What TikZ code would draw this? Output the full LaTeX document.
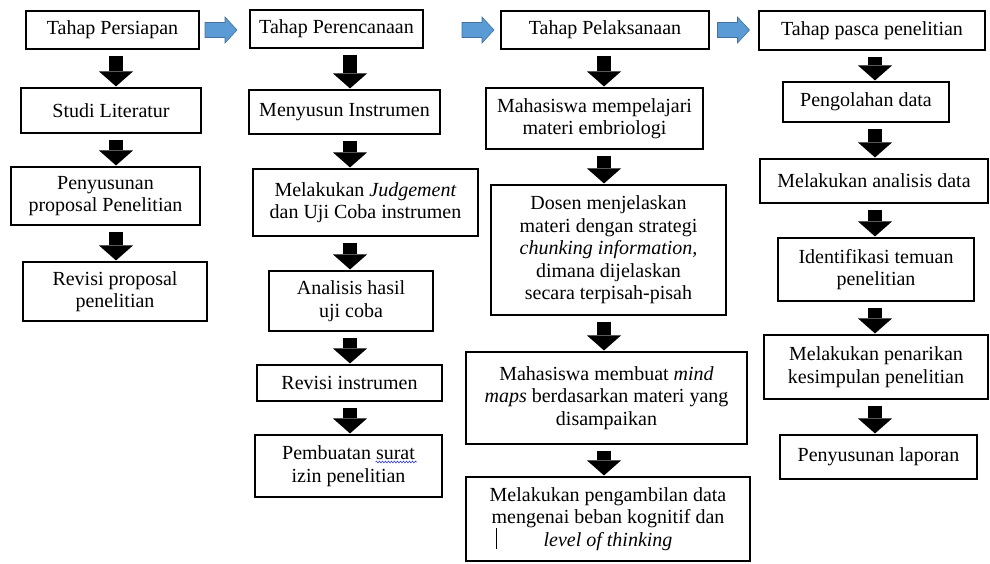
\documentclass[tikz,border=0pt]{standalone}
\usepackage{fontspec}
\setmainfont{Liberation Serif}
\usetikzlibrary{arrows.meta,calc,decorations.pathmorphing}
\definecolor{arrblue}{RGB}{91,155,213}
\definecolor{arredge}{RGB}{65,113,156}
\definecolor{spellwave}{RGB}{50,60,220}
\begin{document}
\begin{tikzpicture}[x=1pt,y=-1pt,
  box/.style={draw, line width=1.1pt, inner sep=0pt, align=center,
    font=\fontsize{20}{22.5}\selectfont},
  dnarrow/.style={line width=14pt,
    -{Triangle[width=34pt,length=15pt,line width=0pt]},
    shorten <=6pt, shorten >=1pt},
  bluearrow/.pic={\draw[fill=arrblue, draw=arredge, line width=0.6pt]
    (-16,-7.5) -- (4,-7.5) -- (4,-13) -- (16,0) -- (4,13) -- (4,7.5) -- (-16,7.5) -- cycle;}
]
\fill[white] (0,0) rectangle (990,563);
\useasboundingbox (0,0) rectangle (990,563);

% column 1
\node[box, minimum width=173pt, minimum height=38pt] (p0) at (112.5,30) {Tahap Persiapan};
\node[box, minimum width=180pt, minimum height=45pt] (p1) at (111,110.5) {Studi Literatur};
\node[box, minimum width=189pt, minimum height=58pt] (p2) at (105.5,196) {Penyusunan\\proposal Penelitian};
\node[box, minimum width=184pt, minimum height=59pt] (p3) at (115,291.5) {Revisi proposal\\penelitian};

% column 2
\node[box, minimum width=173pt, minimum height=38pt] (q0) at (336.5,29) {Tahap Perencanaan};
\node[box, minimum width=191pt, minimum height=44pt] (q1) at (344.5,112) {Menyusun Instrumen};
\node[box, minimum width=225pt, minimum height=67pt] (q2) at (365.5,202.5) {Melakukan \textit{Judgement}\\dan Uji Coba instrumen};
\node[box, minimum width=164pt, minimum height=60pt] (q3) at (351,301) {Analisis hasil\\uji coba};
\node[box, minimum width=185pt, minimum height=36pt] (q4) at (349.5,383) {Revisi instrumen};
\node[box, minimum width=187pt, minimum height=62pt] (q5) at (348.5,466) {Pembuatan surat\\izin penelitian};

% column 3
\node[box, minimum width=208pt, minimum height=38pt] (r0) at (605,30) {Tahap Pelaksanaan};
\node[box, minimum width=217pt, minimum height=61pt] (r1) at (594.5,118.5) {Mahasiswa mempelajari\\materi embriologi};
\node[box, minimum width=235pt, minimum height=130pt] (r2) at (608.5,250) {Dosen menjelaskan\\materi dengan strategi\\\textit{chunking information,}\\dimana dijelaskan\\secara terpisah-pisah};
\node[box, minimum width=281pt, minimum height=92pt] (r3) at (606.5,398) {Mahasiswa membuat \textit{mind}\\\textit{maps} berdasarkan materi yang\\disampaikan};
\node[box, minimum width=284pt, minimum height=84pt] (r4) at (608,519) {Melakukan pengambilan data\\mengenai beban kognitif dan\\\textit{level of thinking}};

% column 4
\node[box, minimum width=226pt, minimum height=39pt] (s0) at (872,30.5) {Tahap pasca penelitian};
\node[box, minimum width=166pt, minimum height=40pt] (s1) at (866,102) {Pengolahan data};
\node[box, minimum width=228pt, minimum height=44pt] (s2) at (874,181) {Melakukan analisis data};
\node[box, minimum width=196pt, minimum height=63pt] (s3) at (876,269.5) {Identifikasi temuan\\penelitian};
\node[box, minimum width=224pt, minimum height=64pt] (s4) at (876,367) {Melakukan penarikan\\kesimpulan penelitian};
\node[box, minimum width=197pt, minimum height=44pt] (s5) at (878.5,457) {Penyusunan laporan};

% arrow axes
\coordinate (c1) at (116,0);
\coordinate (c2) at (350,0);
\coordinate (c3) at (604,0);
\coordinate (c4) at (875,0);

\draw[dnarrow] (p0.south -| c1) -- (p1.north -| c1);
\draw[dnarrow] (p1.south -| c1) -- (p2.north -| c1);
\draw[dnarrow] (p2.south -| c1) -- (p3.north -| c1);

\draw[dnarrow] (q0.south -| c2) -- (q1.north -| c2);
\draw[dnarrow] (q1.south -| c2) -- (q2.north -| c2);
\draw[dnarrow] (q2.south -| c2) -- (q3.north -| c2);
\draw[dnarrow] (q3.south -| c2) -- (q4.north -| c2);
\draw[dnarrow] (q4.south -| c2) -- (q5.north -| c2);

\draw[dnarrow] (r0.south -| c3) -- (r1.north -| c3);
\draw[dnarrow] (r1.south -| c3) -- (r2.north -| c3);
\draw[dnarrow] (r2.south -| c3) -- (r3.north -| c3);
\draw[dnarrow] (r3.south -| c3) -- (r4.north -| c3);

\draw[dnarrow] (s0.south -| c4) -- (s1.north -| c4);
\draw[dnarrow] (s1.south -| c4) -- (s2.north -| c4);
\draw[dnarrow] (s2.south -| c4) -- (s3.north -| c4);
\draw[dnarrow] (s3.south -| c4) -- (s4.north -| c4);
\draw[dnarrow] (s4.south -| c4) -- (s5.north -| c4);

% blue phase arrows
\coordinate (ba1) at (221,30);
\coordinate (ba2) at (478,30);
\coordinate (ba3) at (733.5,30);
\pic at (ba1) {bluearrow};
\pic at (ba2) {bluearrow};
\pic at (ba3) {bluearrow};

% spell-check wave under "surat"
\draw[spellwave, line width=0.6pt, decorate, decoration={snake, amplitude=0.9pt, segment length=3pt}]
  ($(q5.center)+(27,-4)$) -- ++(41,0);
% stray cursor mark
\draw[line width=0.8pt] ($(r4.center)+(-112,9)$) -- ++(0,21);
\end{tikzpicture}
\end{document}
